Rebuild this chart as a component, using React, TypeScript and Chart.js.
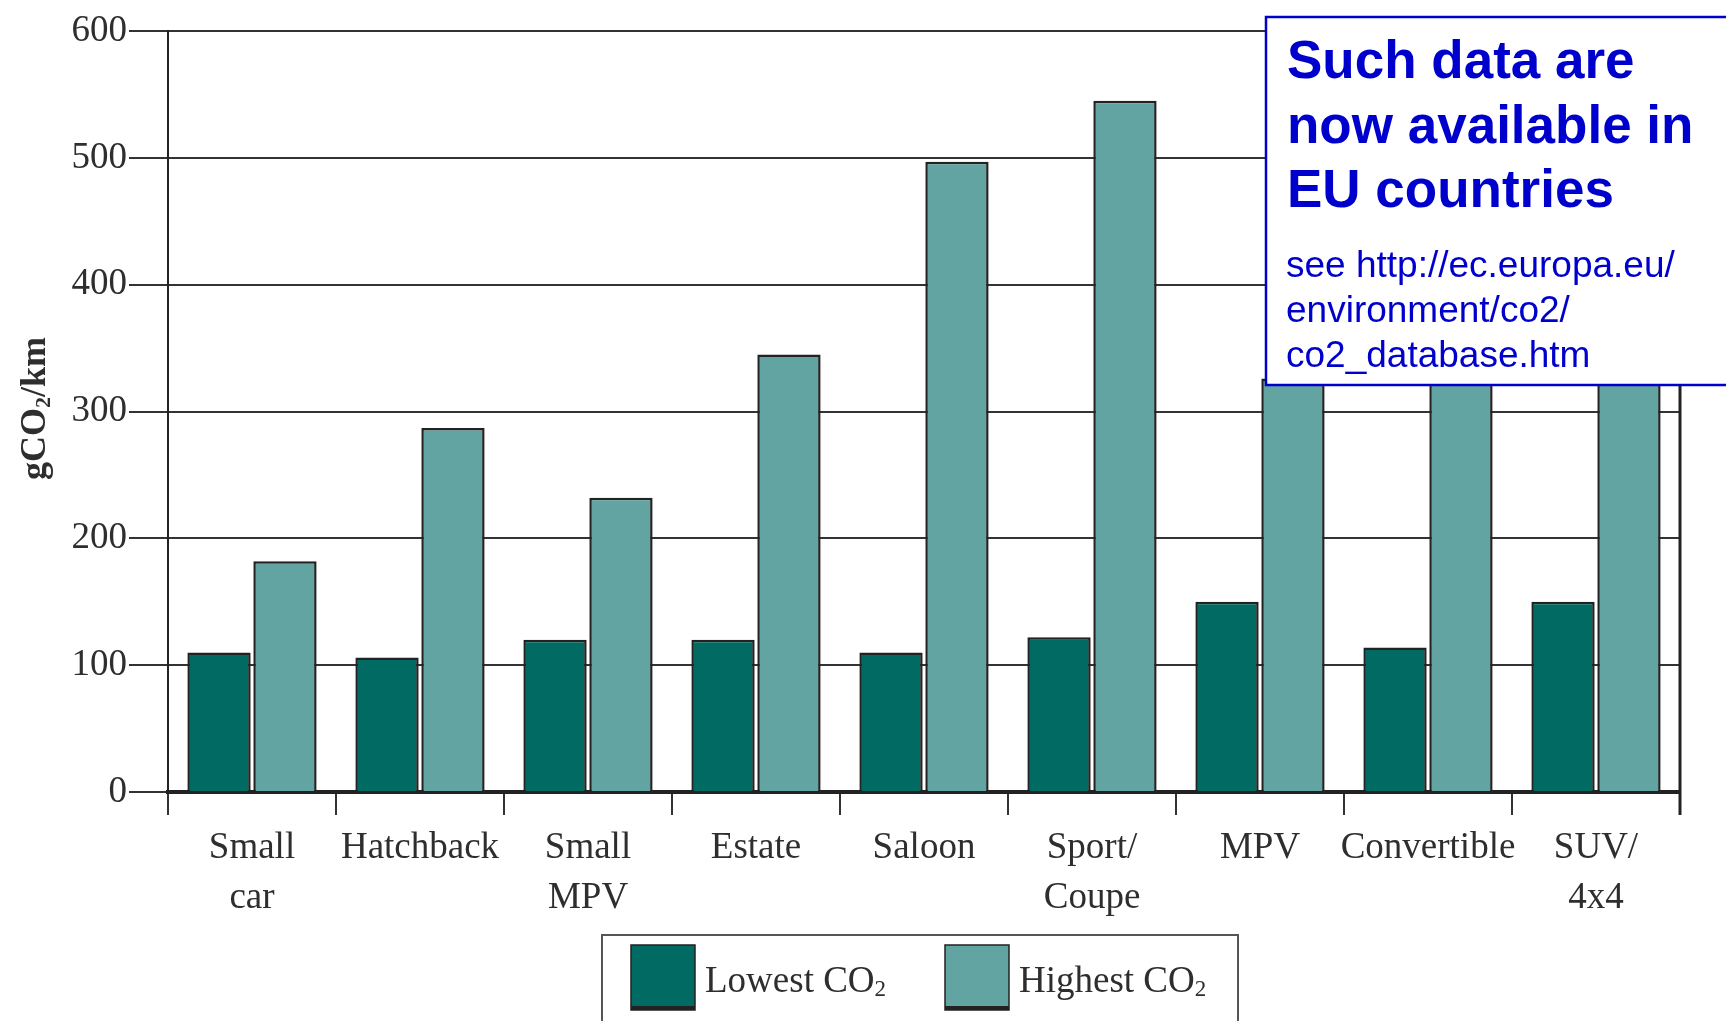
import React, { useEffect, useRef } from 'react';
import { Chart, registerables } from 'chart.js';

Chart.register(...registerables);

// Vehicle classes (multi-line labels as arrays)
const categories: (string | string[])[] = [
  ['Small', 'car'],
  'Hatchback',
  ['Small', 'MPV'],
  'Estate',
  'Saloon',
  ['Sport/', 'Coupe'],
  'MPV',
  'Convertible',
  ['SUV/', '4x4'],
];

// gCO2/km for the cleanest and the dirtiest model of each class
const lowestCO2 = [110, 106, 120, 120, 110, 122, 150, 114, 150];
const highestCO2 = [182, 287, 232, 345, 497, 545, 326, 440, 415];

const seriesLabels = ['Lowest CO₂', 'Highest CO₂'];
const yTickValues = [0, 100, 200, 300, 400, 500, 600];
const yAxisTitle = 'gCO₂/km';

const noteHeadline = ['Such data are', 'now available in', 'EU countries'];
const noteLink = ['see http://ec.europa.eu/', 'environment/co2/', 'co2_database.htm'];

const SERIF = '"Liberation Serif", "Times New Roman", serif';
const SANS = '"Liberation Sans", Arial, sans-serif';
const INK = '#2e2e2e';
const LOW_COLOR = '#016b63';
const HIGH_COLOR = '#62a4a2';
const NOTE_BLUE = '#0000cc';

// Draws text where '₂' becomes a smaller, lowered "2"; returns the width.
function subscriptText(
  ctx: CanvasRenderingContext2D,
  text: string,
  x: number,
  y: number,
  size: number,
  weight: string,
  measureOnly = false
): number {
  const parts = text.split('₂');
  let cx = x;
  parts.forEach((part, i) => {
    ctx.font = `${weight} ${size}px ${SERIF}`;
    if (!measureOnly) ctx.fillText(part, cx, y);
    cx += ctx.measureText(part).width;
    if (i < parts.length - 1) {
      const s = Math.round(size * 0.62);
      ctx.font = `${weight} ${s}px ${SERIF}`;
      if (!measureOnly) ctx.fillText('2', cx, y + size * 0.22);
      cx += ctx.measureText('2').width;
    }
  });
  return cx - x;
}

const decorations = {
  id: 'decorations',
  afterDraw(chart: any) {
    const { ctx, chartArea } = chart;
    const { left, right, top, bottom } = chartArea;
    ctx.save();

    // right-hand frame line
    ctx.strokeStyle = '#222';
    ctx.lineWidth = 3;
    ctx.beginPath();
    ctx.moveTo(right, top);
    ctx.lineTo(right, bottom + 23);
    ctx.stroke();

    // rotated y-axis title
    ctx.fillStyle = INK;
    ctx.textBaseline = 'middle';
    ctx.textAlign = 'left';
    const titleSize = 36;
    const tw = subscriptText(ctx, yAxisTitle, 0, 0, titleSize, 'bold', true);
    ctx.save();
    ctx.translate(36, (top + bottom) / 2 - 3);
    ctx.rotate(-Math.PI / 2);
    subscriptText(ctx, yAxisTitle, -tw / 2, 0, titleSize, 'bold');
    ctx.restore();

    // legend frame and entries
    const mid = (left + right) / 2 - 4;
    const lgLeft = mid - 318;
    const lgRight = mid + 318;
    const lgTop = 935;
    ctx.strokeStyle = '#555';
    ctx.lineWidth = 2;
    ctx.strokeRect(lgLeft, lgTop, lgRight - lgLeft, 110);

    const swatchXs = [lgLeft + 29, lgLeft + 343];
    chart.data.datasets.forEach((ds: any, i: number) => {
      const sx = swatchXs[i];
      const sy = lgTop + 10;
      ctx.fillStyle = ds.backgroundColor;
      ctx.fillRect(sx, sy, 64, 65);
      ctx.strokeStyle = '#222';
      ctx.lineWidth = 1.5;
      ctx.strokeRect(sx, sy, 64, 65);
      ctx.fillStyle = '#222';
      ctx.fillRect(sx, sy + 61, 64, 4);
      ctx.fillStyle = INK;
      ctx.textBaseline = 'middle';
      ctx.textAlign = 'left';
      subscriptText(ctx, ds.label, sx + 74, sy + 37, 37, 'normal');
    });

    // information note in the top-right corner
    const bx = 1266;
    const by = 17;
    const bBottom = 385;
    ctx.fillStyle = '#ffffff';
    ctx.fillRect(bx, by, chart.width - bx + 10, bBottom - by);
    ctx.strokeStyle = NOTE_BLUE;
    ctx.lineWidth = 2.5;
    ctx.strokeRect(bx, by, chart.width - bx + 10, bBottom - by);

    ctx.fillStyle = NOTE_BLUE;
    ctx.textBaseline = 'alphabetic';
    ctx.textAlign = 'left';
    ctx.font = `bold 53px ${SANS}`;
    noteHeadline.forEach((line, i) => ctx.fillText(line, 1287, 78 + i * 64.5));
    ctx.font = `37px ${SANS}`;
    noteLink.forEach((line, i) => ctx.fillText(line, 1286, 277 + i * 45));

    ctx.restore();
  },
};

export default function App() {
  const canvasRef = useRef<HTMLCanvasElement | null>(null);

  useEffect(() => {
    const canvas = canvasRef.current;
    if (!canvas) return;
    const chart = new Chart(canvas, {
      type: 'bar',
      data: {
        labels: categories,
        datasets: [
          {
            label: seriesLabels[0],
            data: lowestCO2,
            backgroundColor: LOW_COLOR,
            borderColor: '#222',
            borderWidth: 2.5,
            categoryPercentage: 0.785,
            barPercentage: 0.96,
          },
          {
            label: seriesLabels[1],
            data: highestCO2,
            backgroundColor: HIGH_COLOR,
            borderColor: '#222',
            borderWidth: 2.5,
            categoryPercentage: 0.785,
            barPercentage: 0.96,
          },
        ],
      },
      options: {
        animation: false,
        responsive: false,
        devicePixelRatio: 1,
        layout: { padding: { left: 0, top: 31, right: 46, bottom: 89 } },
        plugins: {
          legend: { display: false },
          tooltip: { enabled: false },
          title: { display: false },
        },
        scales: {
          x: {
            type: 'category',
            offset: true,
            grid: {
              offset: true,
              drawOnChartArea: false,
              drawTicks: true,
              tickLength: 23,
              color: '#333',
              lineWidth: 2,
            },
            border: { display: true, color: '#222', width: 4 },
            ticks: {
              autoSkip: false,
              maxRotation: 0,
              minRotation: 0,
              padding: 9,
              color: INK,
              font: { family: SERIF, size: 37, lineHeight: 1.33 },
            },
            afterFit: (scale: any) => {
              scale.height = 140;
            },
          },
          y: {
            min: 0,
            max: 600,
            afterBuildTicks: (scale: any) => {
              scale.ticks = yTickValues.map((v) => ({ value: v }));
            },
            grid: {
              color: '#333',
              lineWidth: 2,
              drawTicks: true,
              tickLength: 39,
            },
            border: { display: true, color: '#222', width: 2 },
            ticks: {
              padding: 2,
              color: INK,
              font: { family: SERIF, size: 37 },
            },
            afterFit: (scale: any) => {
              scale.width = 168;
            },
          },
        },
      },
      plugins: [decorations],
    });
    return () => chart.destroy();
  }, []);

  return (
    <div style={{ position: 'absolute', left: 0, top: 0, width: 1726, height: 1021, background: '#fff' }}>
      <canvas ref={canvasRef} width={1726} height={1021} />
    </div>
  );
}
